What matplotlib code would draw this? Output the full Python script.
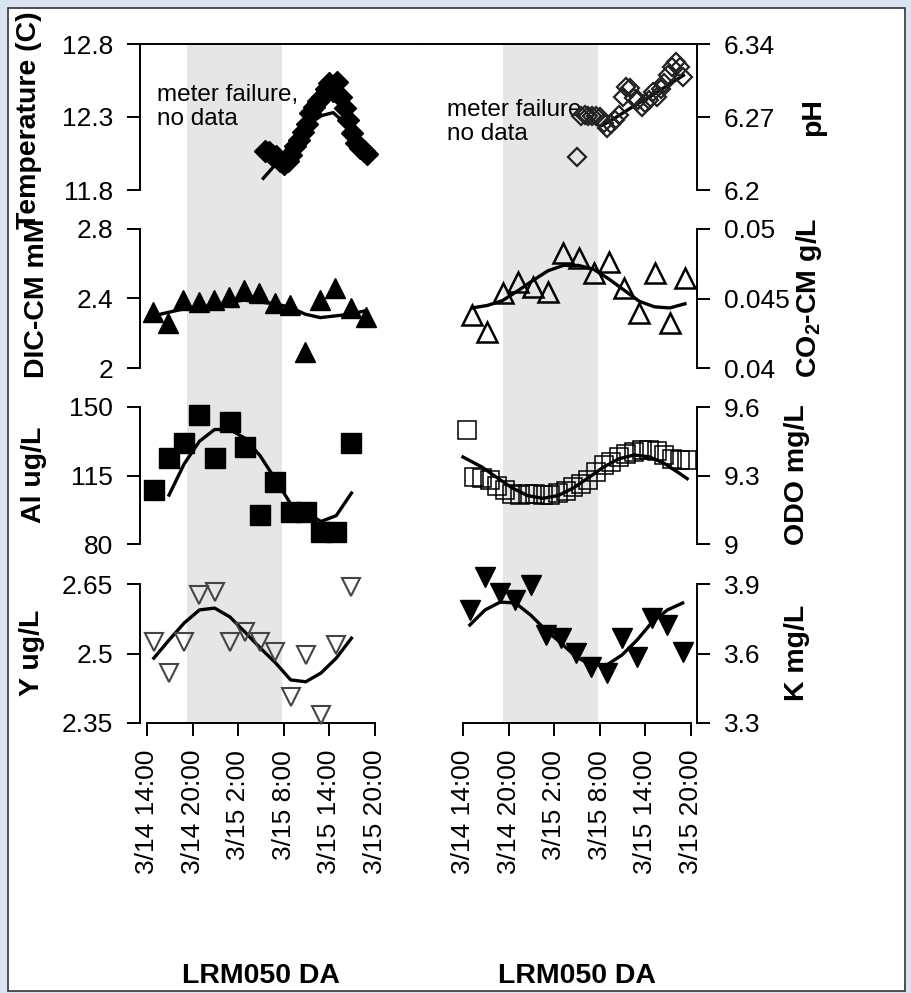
"""
Diel water chemistry at LRM050 DA, 3/14 - 3/15.
Left column: temperature, DIC, Al, Y.  Right column: pH, CO2, ODO, K.
"""

import matplotlib
matplotlib.use("Agg")
from matplotlib import pyplot as plt
from matplotlib.patches import Rectangle

plt.rcParams['font.family'] = ['Liberation Sans', 'DejaVu Sans']
plt.rcParams['mathtext.fontset'] = 'custom'
plt.rcParams['mathtext.rm'] = 'Liberation Sans'
plt.rcParams['mathtext.bf'] = 'Liberation Sans:bold'

# time is in hours after 3/14 14:00
tick_hours = [0, 6, 12, 18, 24, 30]
tick_labels = ['3/14 14:00', '3/14 20:00', '3/15 2:00', '3/15 8:00', '3/15 14:00', '3/15 20:00']
night = (5.25, 17.7)
site = 'LRM050 DA'

# temperature (C)
temp_t = [15.5, 16.0, 16.5, 17.0, 17.5, 18.0, 18.5, 19.0, 19.5, 20.0, 20.5, 21.0, 21.5, 22.0,
          22.5, 23.0, 23.5, 24.0, 24.5, 25.0, 25.5, 26.0, 26.5, 27.0, 27.5, 28.0, 28.5, 29.0]
temp_v = [12.07, 12.06, 12.04, 12.03, 12.00, 11.98, 12.00, 12.04, 12.10, 12.14, 12.20, 12.25, 12.33, 12.37,
          12.41, 12.44, 12.49, 12.53, 12.48, 12.54, 12.44, 12.36, 12.28, 12.19, 12.12, 12.09, 12.07, 12.05]
temp_fit_t = [15.3, 17.0, 18.5, 20.0, 21.5, 23.0, 24.5, 26.0, 27.5, 29.0]
temp_fit_v = [11.88, 11.98, 12.09, 12.19, 12.26, 12.31, 12.33, 12.26, 12.15, 12.05]

# pH
ph_t = [15.0, 15.5, 16.0, 16.5, 17.0, 17.5, 18.0, 18.5, 19.0, 19.5, 20.0, 20.5, 21.0, 21.5, 22.0,
        22.5, 23.0, 23.5, 24.0, 24.5, 25.0, 25.5, 26.0, 26.5, 27.0, 27.5, 28.0, 28.5, 29.0]
ph_v = [6.232, 6.271, 6.272, 6.271, 6.271, 6.271, 6.270, 6.264, 6.259, 6.263, 6.267, 6.272, 6.289, 6.299, 6.298,
        6.288, 6.286, 6.280, 6.283, 6.286, 6.294, 6.289, 6.297, 6.303, 6.310, 6.318, 6.323, 6.318, 6.308]
ph_fit_t = [18.3, 20.0, 21.5, 23.0, 24.5, 26.0, 27.5, 29.0]
ph_fit_v = [6.262, 6.269, 6.276, 6.283, 6.289, 6.296, 6.303, 6.310]

# DIC-CM (mM)
dic_t = [0.8, 2.8, 4.8, 6.8, 8.8, 10.8, 12.8, 14.8, 16.8, 18.8, 20.8, 22.8, 24.8, 26.8, 28.8]
dic_v = [2.322, 2.259, 2.391, 2.380, 2.391, 2.409, 2.449, 2.432, 2.374, 2.363, 2.092, 2.391, 2.460, 2.345, 2.294]
dic_fit_v = [2.30, 2.32, 2.34, 2.35, 2.36, 2.38, 2.39, 2.38, 2.37, 2.35, 2.31, 2.29, 2.30, 2.31, 2.33]

# CO2-CM (g/L)
co2_t = [1.2, 3.2, 5.2, 7.2, 9.2, 11.2, 13.2, 15.2, 17.2, 19.2, 21.2, 23.2, 25.2, 27.2, 29.2]
co2_v = [0.04381, 0.04259, 0.04540, 0.04619, 0.04583, 0.04547, 0.04827, 0.04791,
         0.04683, 0.04763, 0.04576, 0.04396, 0.04683, 0.04324, 0.04647]
co2_fit_v = [0.04432, 0.04450, 0.04485, 0.04555, 0.04630, 0.04700, 0.04738, 0.04738,
             0.04710, 0.04640, 0.04560, 0.04480, 0.04440, 0.04432, 0.04462]

# Al (ug/L)
al_t = [0.9, 2.9, 4.9, 6.9, 8.9, 10.9, 12.9, 14.9, 16.9, 18.9, 20.9, 22.9, 24.9, 26.9]
al_v = [107.6, 123.9, 131.6, 145.9, 123.9, 142.3, 129.6, 94.8, 111.7, 96.3, 96.3, 86.1, 86.1, 131.6]
al_fit_v = [105.0, 121.0, 132.5, 138.5, 138.5, 134.0, 125.0, 113.0, 100.5, 96.0, 91.5, 94.5, 106.0]

# ODO (mg/L)
odo_t = [0.5, 1.5, 2.5, 3.5, 4.5, 5.5, 6.5, 7.5, 8.5, 9.5, 10.5, 11.5, 12.5, 13.5, 14.5,
         15.5, 16.5, 17.5, 18.5, 19.5, 20.5, 21.5, 22.5, 23.5, 24.5, 25.5, 26.5, 27.5, 28.5, 29.5]
odo_v = [9.499, 9.293, 9.289, 9.280, 9.254, 9.236, 9.219, 9.215, 9.219, 9.219, 9.215, 9.215, 9.223, 9.232, 9.250,
         9.263, 9.280, 9.315, 9.346, 9.359, 9.381, 9.394, 9.403, 9.412, 9.412, 9.407, 9.390, 9.372, 9.368, 9.368]
odo_fit_t = [0.0, 2.5, 4.5, 6.5, 8.5, 10.5, 12.5, 14.5, 16.5, 18.5, 20.5, 22.5, 24.5, 26.5, 28.5, 29.5]
odo_fit_v = [9.381, 9.337, 9.290, 9.245, 9.212, 9.200, 9.212, 9.245, 9.290, 9.337, 9.373, 9.390, 9.382, 9.353,
             9.309, 9.286]

# Y (ug/L)
y_t = [0.9, 2.9, 4.9, 6.9, 8.9, 10.9, 12.9, 14.9, 16.9, 18.9, 20.9, 22.9, 24.9, 26.9]
y_v = [2.525, 2.458, 2.525, 2.626, 2.633, 2.525, 2.546, 2.525, 2.503, 2.406, 2.497, 2.367, 2.518, 2.644]
y_fit_v = [2.490, 2.529, 2.566, 2.594, 2.598, 2.579, 2.546, 2.512, 2.480, 2.443, 2.439, 2.458, 2.490, 2.533]

# K (mg/L)
k_t = [0.9, 2.9, 4.9, 6.9, 8.9, 10.9, 12.9, 14.9, 16.9, 18.9, 20.9, 22.9, 24.9, 26.9, 28.9]
k_v = [3.788, 3.930, 3.861, 3.831, 3.896, 3.680, 3.667, 3.602, 3.542, 3.516, 3.667, 3.585, 3.753, 3.723, 3.606]
k_fit_v = [3.723, 3.788, 3.822, 3.818, 3.766, 3.701, 3.645, 3.585, 3.550, 3.550, 3.593, 3.658, 3.736, 3.788, 3.818]

W, H = 911, 993
fig = plt.figure(figsize=(W / 100, H / 100), dpi=100)
fig.patch.set_facecolor('#dae3f3')
fig.add_artist(Rectangle((8 / W, 1 - 991 / H), 897 / W, 983 / H, transform=fig.transFigure,
                         facecolor='white', edgecolor='#333333', lw=1.2, zorder=-1))


def box(x0, y0, x1, y1):
    """pixel box (top-left origin) -> figure fraction rect"""
    return [x0 / W, 1 - y1 / H, (x1 - x0) / W, (y1 - y0) / H]


# pixel of hour 0 on each side, 7.6 px per hour
LEFT_X = (140, 418.5, 147)
RIGHT_X = (418.5, 697, 463)
PPH = 7.6
rows = [(44, 190), (229, 368), (407, 544), (584, 723)]


def xlim_of(side):
    x0, x1, h0 = side
    return (x0 - h0) / PPH, (x1 - h0) / PPH


# gray night band behind each column
for side in (LEFT_X, RIGHT_X):
    bg = fig.add_axes(box(side[0], rows[0][0], side[1], rows[-1][1]))
    bg.set_xlim(*xlim_of(side))
    bg.set_ylim(0, 1)
    bg.axvspan(night[0], night[1], color='#e6e6e6', lw=0)
    bg.axis('off')
    bg.set_zorder(-0.5)

panels = [
    # row, side, t, v, fit_t, fit_v, yticks, yticklabels, label, marker style
    (0, 'L', temp_t, temp_v, temp_fit_t, temp_fit_v, [11.8, 12.3, 12.8], ['11.8', '12.3', '12.8'],
     'Temperature (C)', dict(marker='D', ms=11, mfc='black', mec='black', mew=1)),
    (0, 'R', ph_t, ph_v, ph_fit_t, ph_fit_v, [6.2, 6.27, 6.34], ['6.2', '6.27', '6.34'],
     'pH', dict(marker='D', ms=9.5, mfc='none', mec='#222222', mew=1.6)),
    (1, 'L', dic_t, dic_v, dic_t, dic_fit_v, [2.0, 2.4, 2.8], ['2', '2.4', '2.8'],
     'DIC-CM mM', dict(marker='^', ms=15, mfc='black', mec='black', mew=1)),
    (1, 'R', co2_t, co2_v, co2_t, co2_fit_v, [0.04, 0.045, 0.05], ['0.04', '0.045', '0.05'],
     r'CO$_{\mathbf{2}}$-CM g/L', dict(marker='^', ms=15, mfc='none', mec='black', mew=1.8)),
    (2, 'L', al_t, al_v, al_t[1:], al_fit_v, [80, 115, 150], ['80', '115', '150'],
     'Al ug/L', dict(marker='s', ms=14, mfc='black', mec='black', mew=1)),
    (2, 'R', odo_t, odo_v, odo_fit_t, odo_fit_v, [9.0, 9.3, 9.6], ['9', '9.3', '9.6'],
     'ODO mg/L', dict(marker='s', ms=13, mfc='none', mec='black', mew=1.1)),
    (3, 'L', y_t, y_v, y_t, y_fit_v, [2.35, 2.5, 2.65], ['2.35', '2.5', '2.65'],
     'Y ug/L', dict(marker='v', ms=13, mfc='none', mec='#444444', mew=1.5)),
    (3, 'R', k_t, k_v, k_t, k_fit_v, [3.3, 3.6, 3.9], ['3.3', '3.6', '3.9'],
     'K mg/L', dict(marker='v', ms=15, mfc='black', mec='black', mew=1)),
]

# label centres in pixels (x, y)
label_pos = {
    (0, 'L'): (29, 120), (1, 'L'): (37, 298), (2, 'L'): (34, 475), (3, 'L'): (32, 653),
    (0, 'R'): (813, 117), (1, 'R'): (809, 298), (2, 'R'): (797, 475), (3, 'R'): (797, 653),
}

axes = {}
for row, s, t, v, ft, fv, yt, ytl, label, mstyle in panels:
    side = LEFT_X if s == 'L' else RIGHT_X
    top, bot = rows[row]
    ax = fig.add_axes(box(side[0], top, side[1], bot))
    ax.set_facecolor('none')
    ax.set_xlim(*xlim_of(side))
    ax.set_ylim(yt[0], yt[-1])
    ax.plot(ft, fv, color='black', lw=2.4, clip_on=False, zorder=2)
    ax.plot(t, v, ls='none', clip_on=False, zorder=3, **mstyle)

    for sp in ax.spines.values():
        sp.set_linewidth(1.4)
        sp.set_visible(False)
    ax.spines['top'].set_visible(row == 0)
    if s == 'L':
        ax.spines['left'].set_visible(True)
    else:
        ax.spines['right'].set_visible(True)
        ax.yaxis.tick_right()
    ax.set_yticks(yt, ytl)
    ax.tick_params(axis='both', direction='out', length=9.4, width=1.4, labelsize=19, pad=10)

    if row == 3:
        ax.spines['bottom'].set_visible(True)
        ax.spines['bottom'].set_bounds(tick_hours[0], tick_hours[-1])
        ax.set_xticks(tick_hours, tick_labels, rotation=90)
    else:
        ax.set_xticks([])

    lx, ly = label_pos[(row, s)]
    fig.text(lx / W, 1 - ly / H, label, rotation=90, ha='center', va='center',
             fontsize=20.5, fontweight='bold')
    axes[(row, s)] = ax

axes[(0, 'L')].text(1.3, 12.37, 'meter failure,\nno data', fontsize=17.5, ha='left', va='center',
                    linespacing=1.12, zorder=1)
axes[(0, 'R')].text(-2.1, 6.2655, 'meter failure\nno data', fontsize=17.5, ha='left', va='center',
                    linespacing=1.12, zorder=1)

for cx in (261, 577):
    fig.text(cx / W, 1 - 976 / H, site, ha='center', va='center', fontsize=20.5, fontweight='bold')

fig.savefig('out.png', dpi=100, facecolor=fig.get_facecolor())
